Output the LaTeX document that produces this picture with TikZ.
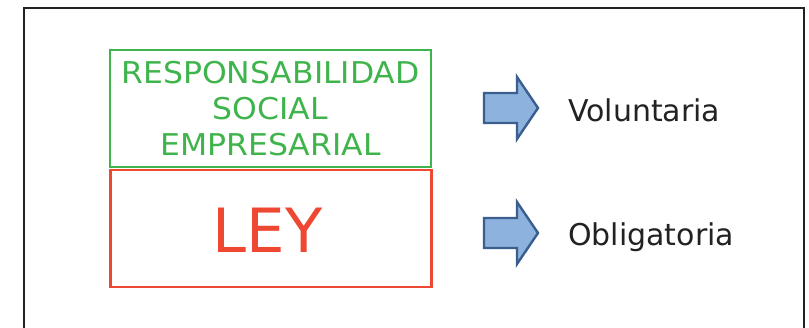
\documentclass[tikz,border=0pt]{standalone}
\usepackage{fontspec}
\setmainfont{DejaVu Sans}
\newfontfamily\widefont[FakeStretch=1.05]{DejaVu Sans}
\definecolor{rsegreen}{RGB}{64,180,76}
\definecolor{leyred}{RGB}{238,72,50}
\definecolor{arrowfill}{RGB}{141,178,222}
\definecolor{arrowdraw}{RGB}{58,94,142}
\definecolor{framegray}{RGB}{35,33,34}
\begin{document}
\begin{tikzpicture}[x=1pt,y=-1pt,
  rsebox/.style={draw=rsegreen,line width=2.4pt,minimum width=321pt,minimum height=117pt,inner sep=0pt,
    text=rsegreen,align=center,font=\widefont\fontsize{30}{36}\selectfont},
  leybox/.style={draw=leyred,line width=2.4pt,minimum width=321pt,minimum height=117pt,inner sep=0pt,
    text=leyred,font=\fontsize{61}{70}\selectfont},
  bluearrow/.style={fill=arrowfill,draw=arrowdraw,line width=2.4pt,line join=miter},
  label/.style={anchor=base west,inner sep=0pt,text=framegray,font=\fontsize{30}{36}\selectfont}]
\useasboundingbox (0,0) rectangle (809,328);
\clip (0,0) rectangle (809,328);
\draw[framegray,line width=2.6pt] (24,8) rectangle (804,345);
\node[rsebox] (rse) at (270.5,108.5) {RESPONSABILIDAD\\SOCIAL\\EMPRESARIAL};
\node[leybox] (ley) at (271,228.5) {};
\node[text=leyred,font=\fontsize{61}{70}\selectfont,inner sep=0pt] (leytext) at (267.5,230) {LEY};
\coordinate (a1) at (484,108);
\coordinate (a2) at (484,233);
\draw[bluearrow] (a1) ++(0,-15) -- ++(33,0) -- ++(0,-16) -- ++(21,31) -- ++(-21,31) -- ++(0,-16) -- ++(-33,0) -- cycle;
\draw[bluearrow] (a2) ++(0,-15) -- ++(33,0) -- ++(0,-16) -- ++(21,31) -- ++(-21,31) -- ++(0,-16) -- ++(-33,0) -- cycle;
\node[label] (vol) at (568,122) {Voluntaria};
\node[label] (obl) at (568,246) {Obligatoria};
\end{tikzpicture}
\end{document}
